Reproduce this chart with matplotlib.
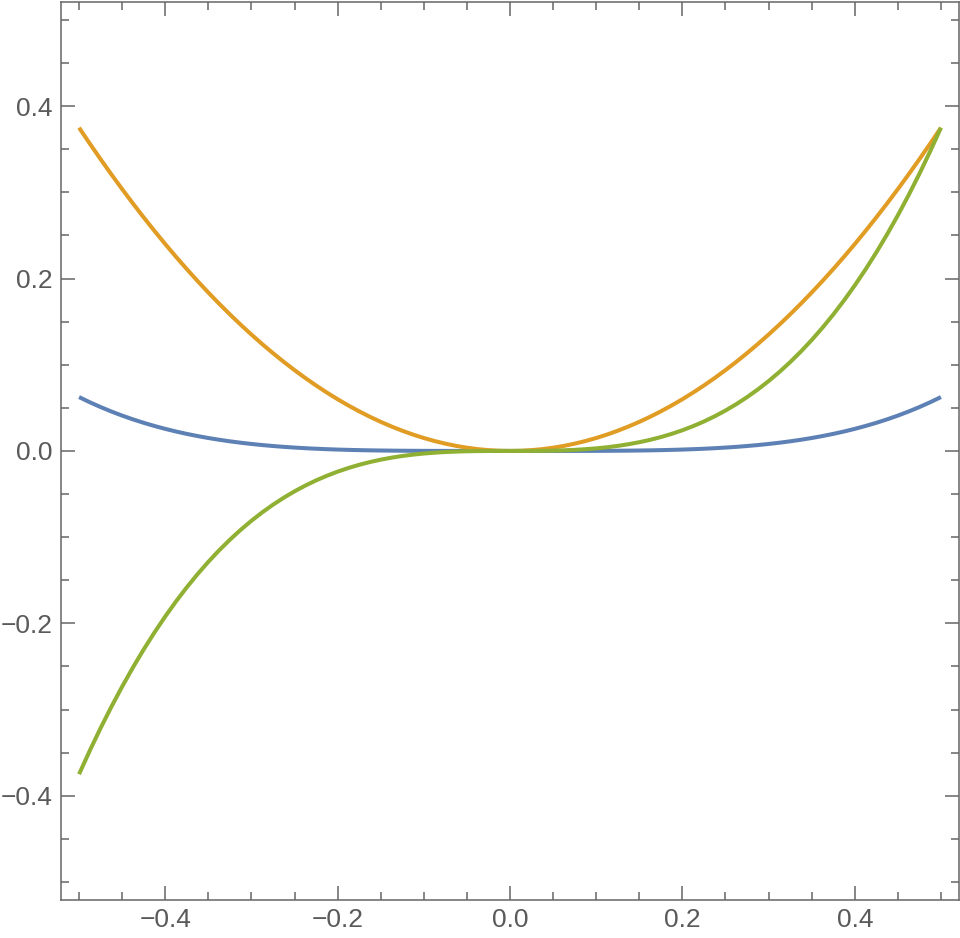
import numpy as np
from matplotlib import pyplot as plt
from matplotlib.ticker import MultipleLocator

# values, right half x = 0 .. 0.5 (step 0.0125);
# the left half is the mirror image
x_half = [round(i * 0.0125, 4) for i in range(41)]

orange_half = [0, 0.000234, 0.000938, 0.00211, 0.00375, 0.00586, 0.00844, 0.01148, 0.015, 0.01898,
               0.02344, 0.02836, 0.03375, 0.03961, 0.04594, 0.05273, 0.06, 0.06773, 0.07594, 0.08461,
               0.09375, 0.10336, 0.11344, 0.12398, 0.135, 0.14648, 0.15844, 0.17086, 0.18375, 0.19711,
               0.21094, 0.22523, 0.24, 0.25523, 0.27094, 0.28711, 0.30375, 0.32086, 0.33844, 0.35648, 0.375]
green_half = [0, 0.000006, 0.000047, 0.000158, 0.000375, 0.000732, 0.001266, 0.00201, 0.003, 0.004271,
              0.005859, 0.007799, 0.010125, 0.012873, 0.016078, 0.019775, 0.024, 0.028787, 0.034172, 0.04019,
              0.046875, 0.054264, 0.062391, 0.071291, 0.081, 0.091553, 0.102984, 0.11533, 0.128625, 0.142904,
              0.158203, 0.174557, 0.192, 0.210568, 0.230297, 0.251221, 0.273375, 0.296795, 0.321516, 0.347572, 0.375]
blue_half = [0, 0.0, 0.0, 0.000002, 0.000006, 0.000015, 0.000032, 0.000059, 0.0001, 0.00016,
             0.000244, 0.000357, 0.000506, 0.000697, 0.000938, 0.001236, 0.0016, 0.002039, 0.002563, 0.003182,
             0.003906, 0.004748, 0.005719, 0.006832, 0.0081, 0.009537, 0.011157, 0.012975, 0.015006, 0.017268,
             0.019775, 0.022547, 0.0256, 0.028953, 0.032625, 0.036636, 0.041006, 0.045756, 0.050907, 0.05648, 0.0625]

x = [-v for v in x_half[::-1]] + x_half[1:]
orange = orange_half[::-1] + orange_half[1:]
blue = blue_half[::-1] + blue_half[1:]
green = [-v for v in green_half[::-1]] + green_half[1:]

fig = plt.figure(figsize=(9.6, 9.38), dpi=100)
ax = fig.add_axes([0.0635, 0.0405, 0.9355, 0.9575])

ax.plot(x, blue, color='#5E81B5', lw=2.9, solid_capstyle='butt')
ax.plot(x, orange, color='#E19C24', lw=2.9, solid_capstyle='butt')
ax.plot(x, green, color='#8FB032', lw=2.9, solid_capstyle='butt')

ax.set_xlim(-0.521, 0.521)
ax.set_ylim(-0.521, 0.521)


def fmt(v, p):
    if abs(v) < 1e-9:
        return '0.0'
    return f'{v:.1f}'.replace('-', '\u2212')


ax.xaxis.set_major_locator(MultipleLocator(0.2))
ax.yaxis.set_major_locator(MultipleLocator(0.2))
ax.xaxis.set_minor_locator(MultipleLocator(0.05))
ax.yaxis.set_minor_locator(MultipleLocator(0.05))
ax.xaxis.set_major_formatter(fmt)
ax.yaxis.set_major_formatter(fmt)

gray = '#666666'
for s in ax.spines.values():
    s.set_color(gray)
    s.set_linewidth(1.1)
ax.tick_params(which='both', direction='in', top=True, right=True, color=gray,
               labelcolor='#5a5a5a', labelsize=19, width=1.1)
ax.tick_params(which='major', length=10, pad=6)
ax.tick_params(which='minor', length=6)
for lab in ax.get_xticklabels() + ax.get_yticklabels():
    lab.set_fontfamily('Liberation Sans')

plt.savefig('out.png')
